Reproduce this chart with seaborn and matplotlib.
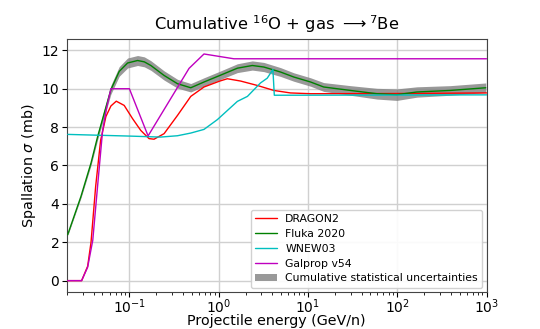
import numpy as np
import pandas as pd
import matplotlib
matplotlib.use("Agg")
import matplotlib.pyplot as plt
import seaborn as sns

# ---- data ----
fluka_e = [0.0204, 0.0287, 0.0372, 0.0442, 0.0523, 0.0621, 0.0769, 0.0955, 0.1236, 0.147, 0.174,
           0.245, 0.346, 0.487, 0.685, 1.03, 1.62, 2.38, 3.21, 4.93, 6.94, 10.7, 15.0,
           29.9, 59.3, 99.0, 166.0, 392.0, 980.0]
fluka_xs = [2.4, 4.39, 6.13, 7.52, 8.73, 9.95, 10.9, 11.34, 11.47, 11.40, 11.21,
            10.69, 10.26, 10.05, 10.35, 10.69, 11.07, 11.21, 11.13, 10.87, 10.61, 10.35, 10.09,
            9.91, 9.74, 9.69, 9.83, 9.91, 10.05]
fluka_err = [0.05, 0.08, 0.12, 0.16, 0.2, 0.23, 0.25, 0.26, 0.26, 0.26, 0.25,
             0.24, 0.23, 0.22, 0.22, 0.22, 0.23, 0.24, 0.24, 0.23, 0.22, 0.22, 0.23,
             0.25, 0.28, 0.3, 0.27, 0.25, 0.25]

dragon_e = [0.0204, 0.0292, 0.0341, 0.0372, 0.0419, 0.0476, 0.0546, 0.0621, 0.0713,
            0.0875, 0.1086, 0.134, 0.166, 0.189, 0.245, 0.346, 0.487, 0.685, 1.03, 1.25,
            1.76, 2.71, 4.15, 6.37, 10.7, 100.0, 1000.0]
dragon_xs = [0.0, 0.0, 0.75, 2.0, 4.9, 7.3, 8.55, 9.1, 9.35,
             9.13, 8.44, 7.83, 7.40, 7.37, 7.66, 8.61, 9.6, 10.09, 10.4, 10.52,
             10.4, 10.17, 9.91, 9.78, 9.74, 9.75, 9.78]

wnew_e = [0.0204, 0.104, 0.223, 0.346, 0.487, 0.685, 0.967, 1.62, 2.10, 2.94, 3.50, 4.05,
          4.2, 1000.0]
wnew_xs = [7.62, 7.53, 7.48, 7.55, 7.69, 7.88, 8.39, 9.34, 9.6, 10.3, 10.55, 11.0,
           9.66, 9.68]

galprop_e = [0.0204, 0.0292, 0.0341, 0.0389, 0.0442, 0.0501, 0.0556, 0.0621, 0.1,
             0.162, 0.466, 0.685, 1.48, 1000.0]
galprop_xs = [0.0, 0.0, 0.7, 2.1, 5.0, 7.8, 9.0, 10.0, 10.0,
              7.54, 11.06, 11.81, 11.56, 11.56]

sns.set_style("ticks")
plt.rcParams["font.family"] = ["DejaVu Sans"]
plt.rcParams["text.color"] = "black"
plt.rcParams["axes.labelcolor"] = "black"
plt.rcParams["xtick.color"] = "black"
plt.rcParams["ytick.color"] = "black"

fig = plt.figure(figsize=(5.4, 3.29), dpi=100)
ax = fig.add_axes([0.124, 0.112, 0.777, 0.770])

lo = np.array(fluka_xs) - np.array(fluka_err)
hi = np.array(fluka_xs) + np.array(fluka_err)
ax.fill_between(fluka_e, lo, hi, color="grey", alpha=0.8, lw=0,
                label="Cumulative statistical uncertainties", zorder=1)

sns.lineplot(x=dragon_e, y=dragon_xs, color="r", lw=1, label="DRAGON2", ax=ax, sort=False, zorder=3)
sns.lineplot(x=fluka_e, y=fluka_xs, color="g", lw=1, label="Fluka 2020", ax=ax, sort=False, zorder=3)
sns.lineplot(x=wnew_e, y=wnew_xs, color="c", lw=1, label="WNEW03", ax=ax, sort=False, zorder=3)
sns.lineplot(x=galprop_e, y=galprop_xs, color="m", lw=1, label="Galprop v54", ax=ax, sort=False, zorder=3)

ax.set_xscale("log")
ax.set_xlim(0.02, 1000)
ax.set_ylim(-0.6, 12.6)
ax.set_yticks([0, 2, 4, 6, 8, 10, 12])
ax.grid(True, which="major", color="#d0d0d0", lw=1.0)
for s in ax.spines.values():
    s.set_color("#444444")
ax.tick_params(labelsize=10, pad=2)
ax.tick_params(axis="x", pad=0)

ax.set_title(r"Cumulative $^{16}$O + gas $\longrightarrow$$^{7}$Be", fontsize=11.8)
ax.set_xlabel("Projectile energy (GeV/n)", fontsize=10.3)
ax.xaxis.set_label_coords(0.5, -0.086)
ax.set_ylabel(r"Spallation $\sigma$ (mb)", fontsize=10.4, labelpad=3)

handles, labels = ax.get_legend_handles_labels()
order = [1, 2, 3, 4, 0]
ax.legend([handles[i] for i in order], [labels[i] for i in order],
          loc="lower right", fontsize=7.8, labelspacing=0.45, framealpha=0.9,
          borderaxespad=0.4)

fig.savefig("out.png", dpi=100)
